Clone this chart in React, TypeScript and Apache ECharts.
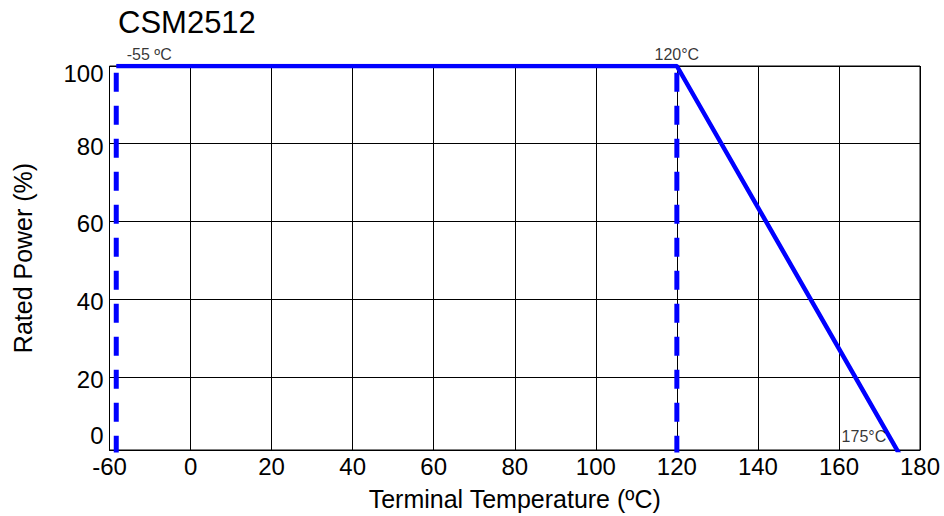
import React, { useEffect, useRef } from 'react';
import * as echarts from 'echarts';

// ---- data ----
const chartTitle = 'CSM2512';
const xAxisName = 'Terminal Temperature (ºC)';
const yAxisName = 'Rated Power (%)';
const deratingTemps = [-55, 120, 175];
const deratingPower = [100, 100, 0];
const dashedTemps = [-55, 120];
const dashedPower = [0, 100];
const annotationTexts = ['-55 ºC', '120°C', '175°C'];
const annotationTemps = [-55, 120, 175];
const annotationPower = [100, 100, 0];

// axis: first interval (-60..0) is compressed to the width of one 20° step
const toAxis = (t: number) => (t < 0 ? t / 3 : t);
const fromAxis = (p: number) => (p < 0 ? p * 3 : p);

const FONT = '"Liberation Sans", Arial, sans-serif';

export default function App() {
  const ref = useRef<HTMLDivElement>(null);
  useEffect(() => {
    if (!ref.current) return;
    const chart = echarts.init(ref.current, null, { renderer: 'svg' });
    const labelOffsets: any[] = [
      { position: 'top', distance: 3, offset: [33, 0] },
      { position: 'top', distance: 3, offset: [0, 0] },
      { position: 'left', distance: 5, offset: [-8, -18] },
    ];
    const option: any = {
      animation: false,
      backgroundColor: '#fff',
      textStyle: { fontFamily: FONT, color: '#000' },
      title: {
        text: chartTitle,
        left: 113,
        top: 2,
        textStyle: { fontFamily: FONT, fontSize: 31, fontWeight: 'normal', color: '#000' },
      },
      grid: {
        left: 109.5,
        right: 24,
        top: 66,
        bottom: 66,
        show: true,
        borderColor: '#000',
        borderWidth: 1,
        backgroundColor: 'transparent',
      },
      xAxis: {
        type: 'value',
        min: -20,
        max: 180,
        interval: 20,
        name: xAxisName,
        nameLocation: 'middle',
        nameGap: 36,
        nameTextStyle: { fontFamily: FONT, fontSize: 25, color: '#000' },
        axisLine: { show: true, lineStyle: { color: '#000', width: 1 } },
        axisTick: { show: false },
        axisLabel: {
          margin: 4,
          fontFamily: FONT,
          fontSize: 24,
          color: '#000',
          formatter: (v: number) => String(Math.round(fromAxis(v))),
        },
        splitLine: { show: true, lineStyle: { color: '#000', width: 1 } },
      },
      yAxis: {
        type: 'value',
        min: 1.2,
        max: 100,
        name: yAxisName,
        nameLocation: 'middle',
        nameGap: 74,
        nameRotate: 90,
        nameTextStyle: { fontFamily: FONT, fontSize: 25, color: '#000' },
        axisLine: { show: true, lineStyle: { color: '#000', width: 1 } },
        axisTick: { show: false },
        axisLabel: {
          margin: 6,
          fontFamily: FONT,
          fontSize: 24,
          color: '#000',
          formatter: (v: number) => {
            if (v >= 100) return '{t|100}';
            if (v < 10) return '{z|0}';
            return '{n|' + v + '}';
          },
          rich: {
            t: { fontFamily: FONT, fontSize: 24, color: '#000', padding: [14, 0, 0, 0] },
            n: { fontFamily: FONT, fontSize: 24, color: '#000', padding: [5, 0, 0, 0] },
            z: { fontFamily: FONT, fontSize: 24, color: '#000', padding: [0, 0, 29, 0] },
          },
        },
        splitLine: { show: true, lineStyle: { color: '#000', width: 1 } },
      },
      series: [
        ...dashedTemps.map((t) => ({
          type: 'line',
          data: dashedPower.map((p) => [toAxis(t), p]),
          symbol: 'none',
          lineStyle: { color: '#0000FF', width: 5, type: [19, 14] },
          silent: true,
          z: 3,
        })),
        {
          type: 'line',
          data: deratingTemps.map((t, i) => [toAxis(t), deratingPower[i]]),
          symbol: 'none',
          lineStyle: { color: '#0000FF', width: 4.5 },
          silent: true,
          z: 4,
        },
        {
          type: 'scatter',
          clip: false,
          silent: true,
          symbolSize: 1,
          itemStyle: { color: 'rgba(0,0,0,0)' },
          data: annotationTexts.map((txt, i) => ({
            value: [toAxis(annotationTemps[i]), annotationPower[i]],
            label: {
              show: true,
              formatter: txt,
              fontFamily: FONT,
              fontSize: 16,
              color: '#000',
              ...labelOffsets[i],
            },
          })),
          z: 5,
        },
      ],
    };
    chart.setOption(option);
    return () => chart.dispose();
  }, []);
  return (
    <div
      ref={ref}
      style={{ position: 'fixed', left: 0, top: 0, width: 944, height: 516, background: '#fff' }}
    />
  );
}
